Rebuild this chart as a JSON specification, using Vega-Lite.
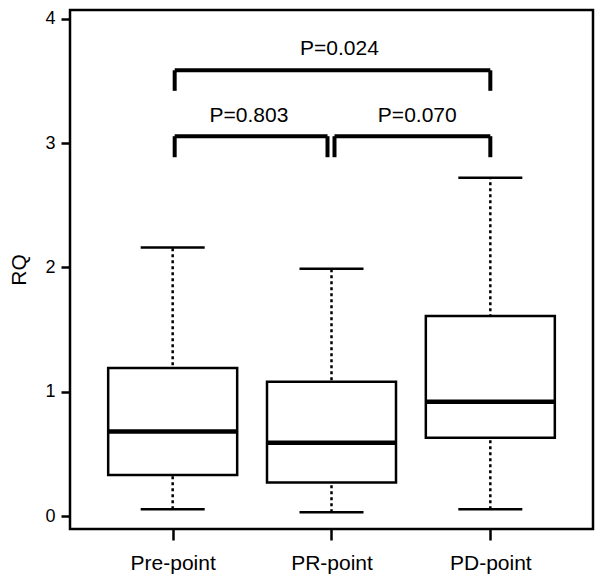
{
  "$schema": "https://vega.github.io/schema/vega-lite/v6.json",
  "width": 523,
  "height": 519,
  "autosize": {"type": "none"},
  "padding": {"left": 70, "top": 10, "right": 9, "bottom": 53},
  "background": "white",
  "config": {
    "view": {"stroke": "black", "strokeWidth": 2.5},
    "font": "Liberation Sans",
    "axis": {"grid": false, "domain": false, "tickColor": "black", "tickWidth": 2.5, "labelColor": "black", "labelFont": "Liberation Sans", "titleFont": "Liberation Sans", "titleColor": "black", "titleFontWeight": "normal"},
    "axisX": {"tickSize": 11, "labelFontSize": 21, "labelPadding": 12},
    "axisY": {"tickSize": 9, "labelFontSize": 18, "labelPadding": 6, "titleFontSize": 21, "titlePadding": 15}
  },
  "datasets": {
    "boxes": [
      {"g": 1, "name": "Pre-point", "min": 0.055, "q1": 0.33, "median": 0.68, "q3": 1.19, "max": 2.16},
      {"g": 2, "name": "PR-point", "min": 0.03, "q1": 0.27, "median": 0.59, "q3": 1.08, "max": 1.99},
      {"g": 3, "name": "PD-point", "min": 0.055, "q1": 0.63, "median": 0.92, "q3": 1.61, "max": 2.72}
    ],
    "brackets": [
      {"x1": 1, "x2": 2, "top": 3.055, "bottom": 2.886, "label": "P=0.803", "lx": 1.48, "ly": 3.22, "side": "left"},
      {"x1": 2, "x2": 3, "top": 3.055, "bottom": 2.886, "label": "P=0.070", "lx": 2.54, "ly": 3.22, "side": "right"},
      {"x1": 1, "x2": 3, "top": 3.585, "bottom": 3.42, "label": "P=0.024", "lx": 2.05, "ly": 3.76, "side": "full"}
    ]
  },
  "layer": [
    {
      "data": {"name": "boxes"},
      "mark": {"type": "rule", "strokeDash": [3, 3], "strokeWidth": 2.5, "color": "black"},
      "encoding": {
        "x": {"field": "g", "type": "quantitative", "scale": {"domain": [0.385, 3.615], "nice": false, "zero": false},
          "axis": {"values": [1, 2, 3], "labelExpr": "datum.value == 1 ? 'Pre-point' : datum.value == 2 ? 'PR-point' : 'PD-point'", "title": null}},
        "y": {"field": "min", "type": "quantitative", "scale": {"domain": [-0.104, 4.07], "nice": false, "zero": false},
          "axis": {"values": [0, 1, 2, 3, 4], "format": "d", "title": "RQ"}},
        "y2": {"field": "max"}
      }
    },
    {
      "data": {"name": "boxes"},
      "mark": {"type": "bar", "size": 129, "fill": "white", "stroke": "black", "strokeWidth": 2.5},
      "encoding": {
        "x": {"field": "g", "type": "quantitative"},
        "y": {"field": "q1", "type": "quantitative"},
        "y2": {"field": "q3"}
      }
    },
    {
      "data": {"name": "boxes"},
      "mark": {"type": "tick", "orient": "horizontal", "size": 129, "thickness": 4.5, "color": "black", "opacity": 1},
      "encoding": {
        "x": {"field": "g", "type": "quantitative"},
        "y": {"field": "median", "type": "quantitative"}
      }
    },
    {
      "data": {"name": "boxes"},
      "mark": {"type": "tick", "orient": "horizontal", "size": 64, "thickness": 2.5, "color": "black", "opacity": 1},
      "encoding": {
        "x": {"field": "g", "type": "quantitative"},
        "y": {"field": "min", "type": "quantitative"}
      }
    },
    {
      "data": {"name": "boxes"},
      "mark": {"type": "tick", "orient": "horizontal", "size": 64, "thickness": 2.5, "color": "black", "opacity": 1},
      "encoding": {
        "x": {"field": "g", "type": "quantitative"},
        "y": {"field": "max", "type": "quantitative"}
      }
    },
    {
      "data": {"name": "brackets"},
      "transform": [{"filter": "datum.side == 'left'"}],
      "layer": [
        {"mark": {"type": "rule", "strokeWidth": 4, "color": "black", "xOffset": 2, "x2Offset": -4},
         "encoding": {"x": {"field": "x1", "type": "quantitative"}, "x2": {"field": "x2"}, "y": {"field": "top", "type": "quantitative"}}},
        {"mark": {"type": "rule", "strokeWidth": 4, "color": "black", "xOffset": 2},
         "encoding": {"x": {"field": "x1", "type": "quantitative"}, "y": {"field": "top", "type": "quantitative"}, "y2": {"field": "bottom"}}},
        {"mark": {"type": "rule", "strokeWidth": 4, "color": "black", "xOffset": -4},
         "encoding": {"x": {"field": "x2", "type": "quantitative"}, "y": {"field": "top", "type": "quantitative"}, "y2": {"field": "bottom"}}}
      ]
    },
    {
      "data": {"name": "brackets"},
      "transform": [{"filter": "datum.side == 'right'"}],
      "layer": [
        {"mark": {"type": "rule", "strokeWidth": 4, "color": "black", "xOffset": 3, "x2Offset": 0},
         "encoding": {"x": {"field": "x1", "type": "quantitative"}, "x2": {"field": "x2"}, "y": {"field": "top", "type": "quantitative"}}},
        {"mark": {"type": "rule", "strokeWidth": 4, "color": "black", "xOffset": 3},
         "encoding": {"x": {"field": "x1", "type": "quantitative"}, "y": {"field": "top", "type": "quantitative"}, "y2": {"field": "bottom"}}},
        {"mark": {"type": "rule", "strokeWidth": 4, "color": "black"},
         "encoding": {"x": {"field": "x2", "type": "quantitative"}, "y": {"field": "top", "type": "quantitative"}, "y2": {"field": "bottom"}}}
      ]
    },
    {
      "data": {"name": "brackets"},
      "transform": [{"filter": "datum.side == 'full'"}],
      "layer": [
        {"mark": {"type": "rule", "strokeWidth": 4, "color": "black", "xOffset": 2},
         "encoding": {"x": {"field": "x1", "type": "quantitative"}, "x2": {"field": "x2"}, "y": {"field": "top", "type": "quantitative"}}},
        {"mark": {"type": "rule", "strokeWidth": 4, "color": "black", "xOffset": 2},
         "encoding": {"x": {"field": "x1", "type": "quantitative"}, "y": {"field": "top", "type": "quantitative"}, "y2": {"field": "bottom"}}},
        {"mark": {"type": "rule", "strokeWidth": 4, "color": "black"},
         "encoding": {"x": {"field": "x2", "type": "quantitative"}, "y": {"field": "top", "type": "quantitative"}, "y2": {"field": "bottom"}}}
      ]
    },
    {
      "data": {"name": "brackets"},
      "mark": {"type": "text", "fontSize": 21, "color": "black", "font": "Liberation Sans", "baseline": "middle", "align": "center"},
      "encoding": {
        "x": {"field": "lx", "type": "quantitative"},
        "y": {"field": "ly", "type": "quantitative"},
        "text": {"field": "label"}
      }
    }
  ]
}
